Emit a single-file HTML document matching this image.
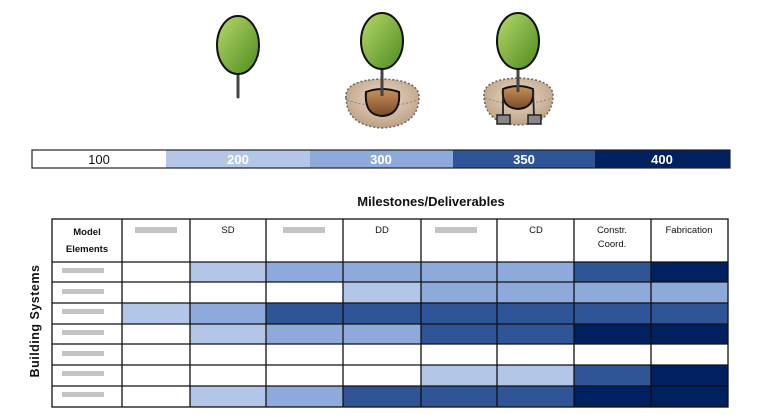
<!DOCTYPE html>
<html><head><meta charset="utf-8"><style>
html,body{margin:0;padding:0;background:#fff;}
svg{display:block;font-family:"Liberation Sans",Arial,sans-serif;}
</style></head><body>
<svg width="766" height="418" viewBox="0 0 766 418" xmlns="http://www.w3.org/2000/svg">
<defs>
<linearGradient id="leaf" x1="0" y1="0" x2="1" y2="1"><stop offset="0" stop-color="#b5d96a"/><stop offset="1" stop-color="#4f8a1e"/></linearGradient>
<radialGradient id="soil" cx="0.5" cy="0.4" r="0.6"><stop offset="0" stop-color="#ecdccb"/><stop offset="1" stop-color="#bda084"/></radialGradient>
<linearGradient id="ball" x1="0" y1="0" x2="0" y2="1"><stop offset="0" stop-color="#c9925c"/><stop offset="1" stop-color="#7a4a24"/></linearGradient>
</defs>
<!-- tree 1 -->
<line x1="238" y1="70" x2="238" y2="97" stroke="#444" stroke-width="3" stroke-linecap="round"/>
<ellipse cx="238" cy="45" rx="21" ry="29" fill="url(#leaf)" stroke="#111" stroke-width="2"/>
<!-- tree 2 -->
<path d="M346 98 Q344 80 382 79 Q420 80 419 98 Q418 126 382 128 Q347 126 346 98Z" fill="url(#soil)" stroke="#666" stroke-width="1.5" stroke-dasharray="2 2"/>
<path d="M347 100 Q382 112 418 100" fill="none" stroke="#888" stroke-dasharray="2 2"/>
<path d="M366 92 Q382 86 399 92 Q401 115 382 116 Q364 115 366 92Z" fill="url(#ball)" stroke="#111" stroke-width="2"/>
<line x1="382" y1="65" x2="382" y2="96" stroke="#444" stroke-width="3"/>
<ellipse cx="382" cy="41" rx="21" ry="28" fill="url(#leaf)" stroke="#111" stroke-width="2"/>
<!-- tree 3 -->
<path d="M484 96 Q483 79 518 78 Q553 79 553 96 Q552 124 518 125 Q485 124 484 96Z" fill="url(#soil)" stroke="#666" stroke-width="1.5" stroke-dasharray="2 2"/>
<path d="M485 98 Q518 110 552 98" fill="none" stroke="#888" stroke-dasharray="2 2"/>
<path d="M503 89 Q518 83 533 89 Q535 108 518 109 Q501 108 503 89Z" fill="url(#ball)" stroke="#111" stroke-width="2"/>
<path d="M503 89 L503 117 M533 89 L534 117" stroke="#222" stroke-width="1.8" fill="none"/>
<rect x="497" y="115" width="13" height="9" fill="#888" stroke="#222" stroke-width="1.5"/>
<rect x="528" y="115" width="13" height="9" fill="#888" stroke="#222" stroke-width="1.5"/>
<line x1="518" y1="65" x2="518" y2="92" stroke="#444" stroke-width="3"/>
<ellipse cx="518" cy="41" rx="21" ry="28" fill="url(#leaf)" stroke="#111" stroke-width="2"/>
<!-- legend -->
<rect x="32" y="150" width="134" height="18" fill="#fff"/>
<rect x="166" y="150" width="144" height="18" fill="#b4c6e7"/>
<rect x="310" y="150" width="143" height="18" fill="#8eaadb"/>
<rect x="453" y="150" width="142" height="18" fill="#2f5597"/>
<rect x="595" y="150" width="135" height="18" fill="#002060"/>
<rect x="32" y="150" width="698" height="18" fill="none" stroke="#222" stroke-width="1.2"/>
<g font-size="13" text-anchor="middle">
<text x="99" y="164" fill="#111">100</text>
<text x="238" y="164" fill="#fff" font-weight="bold">200</text>
<text x="381" y="164" fill="#fff" font-weight="bold">300</text>
<text x="524" y="164" fill="#fff" font-weight="bold">350</text>
<text x="662" y="164" fill="#fff" font-weight="bold">400</text>
</g>
<text x="431" y="206" font-size="13" font-weight="bold" text-anchor="middle" fill="#111">Milestones/Deliverables</text>
<text transform="translate(39,321) rotate(-90)" font-size="12.5" font-weight="bold" text-anchor="middle" fill="#111" letter-spacing="0.5">Building Systems</text>
<g stroke="none">
<rect x="190" y="262" width="76" height="20" fill="#b4c6e7"/><rect x="266" y="262" width="231" height="20" fill="#8eaadb"/><rect x="497" y="262" width="77" height="20" fill="#8eaadb"/><rect x="574" y="262" width="77" height="20" fill="#2f5597"/><rect x="651" y="262" width="77" height="20" fill="#002060"/>
<rect x="343" y="282" width="78" height="21" fill="#b4c6e7"/><rect x="421" y="282" width="307" height="21" fill="#8eaadb"/>
<rect x="122" y="303" width="68" height="21" fill="#b4c6e7"/><rect x="190" y="303" width="76" height="21" fill="#8eaadb"/><rect x="266" y="303" width="462" height="21" fill="#2f5597"/>
<rect x="190" y="324" width="76" height="20" fill="#b4c6e7"/><rect x="266" y="324" width="155" height="20" fill="#8eaadb"/><rect x="421" y="324" width="153" height="20" fill="#2f5597"/><rect x="574" y="324" width="154" height="20" fill="#002060"/>
<rect x="421" y="365" width="153" height="21" fill="#b4c6e7"/><rect x="574" y="365" width="77" height="21" fill="#2f5597"/><rect x="651" y="365" width="77" height="21" fill="#002060"/>
<rect x="190" y="386" width="76" height="21" fill="#b4c6e7"/><rect x="266" y="386" width="77" height="21" fill="#8eaadb"/><rect x="343" y="386" width="231" height="21" fill="#2f5597"/><rect x="574" y="386" width="154" height="21" fill="#002060"/>
</g>
<g fill="#c4c4c4">
<rect x="135" y="227" width="42" height="6"/><rect x="283" y="227" width="42" height="6"/><rect x="435" y="227" width="42" height="6"/>
<rect x="62" y="268" width="42" height="5"/><rect x="62" y="289" width="42" height="5"/><rect x="62" y="309" width="42" height="5"/><rect x="62" y="330" width="42" height="5"/><rect x="62" y="351" width="42" height="5"/><rect x="62" y="371" width="42" height="5"/><rect x="62" y="392" width="42" height="5"/>
</g>
<g stroke="#111" stroke-width="1.3" fill="none">
<rect x="52" y="219" width="676" height="188"/>
<path d="M122 219V407M190 219V407M266 219V407M343 219V407M421 219V407M497 219V407M574 219V407M651 219V407"/>
<path d="M52 262H728M52 282H728M52 303H728M52 324H728M52 344H728M52 365H728M52 386H728"/>
</g>
<g font-size="9.5" text-anchor="middle" fill="#111">
<text x="87" y="235" font-weight="bold">Model</text>
<text x="87" y="252" font-weight="bold">Elements</text>
<text x="228" y="233">SD</text>
<text x="382" y="233">DD</text>
<text x="536" y="233">CD</text>
<text x="612" y="233">Constr.</text>
<text x="612" y="247">Coord.</text>
<text x="689" y="233">Fabrication</text>
</g>
</svg>
</body></html>
